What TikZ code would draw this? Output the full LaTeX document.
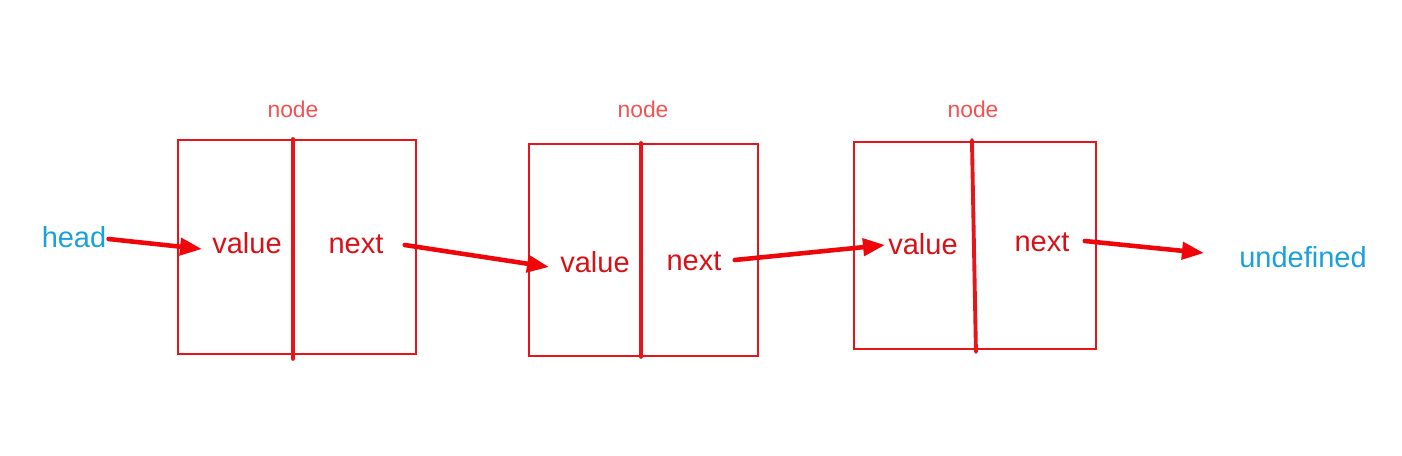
\documentclass[tikz,border=0pt]{standalone}
\usepackage{fontspec}
\setmainfont{Liberation Sans}
\usepackage{tikz}
\usetikzlibrary{arrows.meta}
\usetikzlibrary{positioning}

\definecolor{boxred}{RGB}{228,22,26}
\definecolor{txtred}{RGB}{214,18,24}
\definecolor{lblred}{RGB}{242,82,82}
\definecolor{arrred}{RGB}{238,6,10}
\definecolor{ptrblue}{RGB}{26,160,218}

\tikzset{
	cell/.style={rectangle, draw=boxred, line width=1.1pt, anchor=north west, inner sep=0pt},
	divider/.style={draw=boxred, line width=2.2pt, line cap=round},
	field/.style={text=txtred, inner sep=0pt, font=\fontsize{16.5}{18}\selectfont},
	ptr/.style={text=ptrblue, inner sep=0pt, font=\fontsize{16.5}{18}\selectfont},
	tag/.style={text=lblred, inner sep=0pt, font=\fontsize{13}{15}\selectfont},
	link/.style={draw=arrred, line width=2.6pt, line cap=round, -{Triangle[length=0.44cm, width=0.34cm]}}
}

\begin{document}
\begin{tikzpicture}[x=0.02cm, y=-0.02cm]

\useasboundingbox (0,0) rectangle (1402,456);

%\draw[step=1cm, gray, very thin, dotted] (0,0) grid (1402,456);

% the three list nodes
\node at (177,139) [cell, minimum width=4.76cm, minimum height=4.28cm] (box1) {};
\node at (528,143) [cell, minimum width=4.58cm, minimum height=4.24cm] (box2) {};
\node at (853,141) [cell, minimum width=4.84cm, minimum height=4.14cm] (box3) {};

\draw[divider] ([xshift=-0.08cm]box1.north) -- ([xshift=-0.08cm, yshift=-0.08cm]box1.south);
\draw[divider] ([xshift=-0.05cm]box2.north) -- ([xshift=-0.05cm]box2.south);
\draw[divider] ([xshift=-0.06cm, yshift=0.02cm]box3.north) -- ([xshift=0.02cm, yshift=-0.04cm]box3.south);

\node at (293,109) [tag] (tag1) {node};
\node at (643,109) [tag] (tag2) {node};
\node at (973,109) [tag] (tag3) {node};

% fields
\node at (247,243) [field] (value1) {value};
\node at (356,244) [field] (next1) {next};
\node at (595,262) [field] (value2) {value};
\node at (694,261) [field] (next2) {next};
\node at (923,244) [field] (value3) {value};
\node at (1042,242) [field] (next3) {next};

\node at (74,237) [ptr] (head) {head};
\node at (1303,257) [ptr] (undef) {undefined};

% pointers
\draw[link] ([shift={(2,2)}]head.east) -- ([shift={(-10,6)}]value1.west);
\draw[link] ([shift={(21,1)}]next1.east) -- ([shift={(-11,5)}]value2.west);
\draw[link] ([shift={(13,-1)}]next2.east) -- ([shift={(-3,1)}]value3.west);
\draw[link] ([shift={(15,-1)}]next3.east) -- ([shift={(-35,-4)}]undef.west);

\end{tikzpicture}
\end{document}
